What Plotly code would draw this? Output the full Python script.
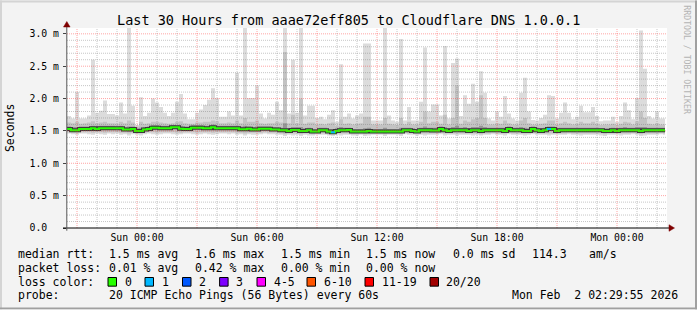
import plotly.graph_objects as go
import pandas as pd

# ---------------- data (ms) ----------------
bin_start = "2026-01-31 20:30"
n_bins = 150
bin_minutes = 12
range_start = "2026-01-31 20:30"
range_end = "2026-02-02 02:30"

rtt_max = [1.73,1.69,2.10,1.69,1.69,1.74,2.60,1.78,1.81,1.97,1.76,1.76,1.74,1.94,1.77,3.15,1.89,1.59,2.02,1.73,
           1.78,2.00,1.94,1.87,1.78,1.73,1.78,1.95,2.07,1.77,1.68,1.68,1.78,1.83,1.90,1.98,2.16,
           2.01,1.72,1.72,1.80,1.74,2.40,1.74,3.15,2.01,2.01,2.20,1.77,1.69,1.78,1.75,1.95,1.82,3.15,1.77,
           2.60,1.78,3.15,1.74,1.89,1.89,1.70,1.72,1.68,1.75,1.82,1.64,2.53,1.72,1.77,1.69,1.74,1.77,2.85,
           2.85,1.66,1.66,1.66,3.15,1.74,1.66,1.64,2.92,1.66,1.87,1.66,1.66,1.95,2.79,1.80,1.91,1.91,1.74,
           2.81,1.69,2.55,2.62,1.73,2.05,1.92,2.23,1.95,2.42,2.09,1.69,1.66,1.80,1.72,2.04,1.77,1.69,
           1.66,2.09,2.32,1.80,1.67,1.66,1.70,1.75,2.05,2.04,1.69,1.78,1.94,1.78,1.68,1.72,1.89,1.79,1.79,
           1.87,1.73,1.65,1.66,1.66,1.72,1.64,1.73,1.94,1.82,1.68,2.01,3.05,2.46,1.73,1.69,1.80,1.69,1.69]

rtt_p90 = [1.63,1.62,1.64,1.61,1.62,1.63,1.65,1.62,1.63,1.64,1.62,1.62,1.61,1.64,1.62,1.66,1.63,1.57,1.64,1.61,
           1.62,1.64,1.64,1.63,1.62,1.61,1.62,1.64,1.65,1.62,1.61,1.61,1.63,1.63,1.64,1.64,1.66,
           1.65,1.62,1.62,1.63,1.62,1.66,1.62,1.70,1.64,1.64,1.66,1.62,1.61,1.62,1.62,1.64,1.63,2.72,1.62,
           1.75,1.62,2.00,1.61,1.63,1.63,1.60,1.61,1.60,1.62,1.63,1.58,1.68,1.61,1.62,1.60,1.61,1.62,1.72,
           1.72,1.60,1.60,1.60,1.70,1.61,1.60,1.59,1.70,1.60,1.64,1.60,1.60,1.64,1.80,1.62,1.64,1.64,1.61,
           1.75,1.60,1.70,2.20,1.61,1.66,1.64,1.68,1.70,2.05,1.70,1.60,1.60,1.62,1.61,1.66,1.62,1.60,
           1.60,1.66,1.70,1.62,1.60,1.60,1.61,1.62,1.66,1.66,1.60,1.62,1.64,1.62,1.60,1.61,1.64,1.62,1.62,
           1.64,1.61,1.59,1.60,1.60,1.61,1.59,1.61,1.64,1.63,1.60,1.65,1.80,1.70,1.61,1.60,1.62,1.60,1.60]

rtt_p75 = [1.57,1.56,1.56,1.57,1.57,1.57,1.58,1.57,1.58,1.58,
           1.58,1.58,1.57,1.58,1.56,1.57,1.57,1.54,1.55,1.56,
           1.57,1.59,1.59,1.58,1.58,1.58,1.59,1.59,1.58,1.57,
           1.57,1.59,1.59,1.59,1.58,1.58,1.60,1.58,1.58,1.58,
           1.58,1.58,1.58,1.57,1.58,1.57,1.56,1.57,1.57,1.57,
           1.57,1.56,1.56,1.55,1.62,1.54,1.56,1.56,1.56,1.54,
           1.55,1.53,1.53,1.55,1.55,1.53,1.53,1.54,1.56,1.55,
           1.55,1.53,1.53,1.53,1.54,1.55,1.53,1.53,1.53,1.55,
           1.53,1.53,1.53,1.55,1.55,1.55,1.54,1.53,1.55,1.57,
           1.55,1.55,1.55,1.57,1.56,1.54,1.56,1.58,1.55,1.56,
           1.54,1.56,1.56,1.58,1.56,1.55,1.55,1.55,1.55,1.55,
           1.57,1.55,1.55,1.56,1.55,1.54,1.57,1.55,1.54,1.55,
           1.57,1.57,1.54,1.55,1.55,1.55,1.55,1.55,1.55,1.55,
           1.55,1.55,1.55,1.54,1.54,1.54,1.55,1.54,1.55,1.56,
           1.55,1.55,1.56,1.56,1.56,1.55,1.55,1.55,1.55,1.55]

rtt_median = [1.53,1.51,1.51,1.53,1.53,1.53,1.54,1.53,1.54,1.54,
              1.54,1.54,1.54,1.54,1.52,1.52,1.53,1.50,1.50,1.52,
              1.53,1.55,1.55,1.54,1.54,1.54,1.555,1.555,1.535,1.53,
              1.53,1.55,1.55,1.55,1.54,1.54,1.555,1.54,1.54,1.54,
              1.54,1.54,1.54,1.525,1.525,1.533,1.52,1.52,1.533,1.533,
              1.533,1.523,1.523,1.51,1.51,1.50,1.515,1.515,1.50,1.50,
              1.51,1.49,1.49,1.51,1.51,1.49,1.48,1.50,1.51,1.51,
              1.515,1.49,1.49,1.49,1.49,1.50,1.49,1.49,1.49,1.49,
              1.49,1.49,1.49,1.49,1.51,1.51,1.50,1.49,1.51,1.51,
              1.51,1.508,1.508,1.53,1.51,1.50,1.51,1.51,1.51,1.51,
              1.50,1.51,1.51,1.50,1.51,1.51,1.51,1.51,1.51,1.50,
              1.53,1.51,1.51,1.51,1.50,1.50,1.53,1.51,1.50,1.51,
              1.53,1.53,1.50,1.51,1.51,1.51,1.51,1.51,1.51,1.51,
              1.51,1.51,1.51,1.51,1.50,1.50,1.51,1.50,1.51,1.51,
              1.51,1.51,1.51,1.50,1.51,1.51,1.51,1.51,1.51,1.51]

rtt_p25 = [1.51,1.49,1.49,1.51,1.51,1.51,1.51,1.51,1.52,1.52,
           1.52,1.52,1.52,1.51,1.50,1.49,1.51,1.48,1.48,1.50,
           1.51,1.52,1.52,1.52,1.52,1.52,1.53,1.53,1.51,1.51,
           1.51,1.53,1.53,1.53,1.52,1.52,1.53,1.52,1.52,1.52,
           1.52,1.52,1.51,1.50,1.50,1.51,1.50,1.50,1.51,1.51,
           1.51,1.50,1.50,1.49,1.48,1.48,1.49,1.49,1.48,1.48,
           1.49,1.47,1.47,1.49,1.49,1.47,1.46,1.48,1.49,1.49,
           1.49,1.47,1.47,1.47,1.47,1.48,1.47,1.47,1.47,1.47,
           1.47,1.47,1.47,1.47,1.49,1.49,1.48,1.47,1.49,1.49,
           1.49,1.49,1.49,1.51,1.49,1.48,1.49,1.49,1.49,1.49,
           1.48,1.49,1.49,1.48,1.49,1.49,1.49,1.49,1.49,1.48,
           1.51,1.49,1.49,1.49,1.48,1.48,1.51,1.49,1.48,1.49,
           1.51,1.51,1.48,1.49,1.49,1.49,1.49,1.49,1.49,1.49,
           1.49,1.49,1.49,1.49,1.48,1.48,1.49,1.48,1.49,1.49,
           1.49,1.49,1.49,1.48,1.49,1.49,1.49,1.49,1.49,1.49]

rtt_p10 = [1.48,1.47,1.47,1.48,1.48,1.48,1.47,1.48,1.48,1.47,1.48,1.48,1.48,1.47,1.47,1.46,1.47,1.46,1.46,1.47,
           1.48,1.48,1.47,1.48,1.48,1.48,1.48,1.47,1.47,1.48,1.48,1.48,1.47,1.48,1.48,1.48,1.47,
           1.48,1.48,1.48,1.48,1.48,1.47,1.47,1.46,1.47,1.47,1.47,1.47,1.48,1.47,1.47,1.47,1.46,1.45,1.46,
           1.46,1.46,1.45,1.46,1.46,1.45,1.46,1.46,1.46,1.45,1.45,1.46,1.46,1.46,1.46,1.45,1.45,1.46,1.45,
           1.46,1.46,1.46,1.46,1.45,1.46,1.46,1.46,1.45,1.47,1.46,1.46,1.46,1.46,1.46,1.46,1.46,1.46,1.47,
           1.46,1.46,1.46,1.46,1.46,1.46,1.46,1.46,1.46,1.45,1.46,1.46,1.47,1.46,1.46,1.46,1.47,1.46,
           1.46,1.46,1.46,1.46,1.47,1.46,1.46,1.46,1.46,1.46,1.46,1.46,1.46,1.47,1.46,1.46,1.46,1.46,1.46,
           1.46,1.46,1.46,1.45,1.46,1.46,1.46,1.46,1.46,1.46,1.47,1.46,1.45,1.46,1.46,1.46,1.46,1.47,1.46]

rtt_min = [1.46,1.45,1.44,1.46,1.46,1.45,1.44,1.46,1.45,1.44,1.46,1.45,1.46,1.44,1.45,1.43,1.45,1.44,1.43,1.45,
           1.46,1.45,1.44,1.45,1.46,1.46,1.45,1.44,1.45,1.46,1.46,1.45,1.44,1.45,1.46,1.45,1.44,
           1.45,1.46,1.46,1.45,1.46,1.44,1.45,1.43,1.45,1.44,1.44,1.45,1.46,1.45,1.45,1.44,1.44,1.42,1.44,
           1.43,1.44,1.42,1.44,1.43,1.43,1.44,1.44,1.44,1.43,1.42,1.44,1.43,1.44,1.44,1.43,1.43,1.44,1.42,
           1.43,1.44,1.44,1.44,1.42,1.44,1.44,1.44,1.42,1.45,1.44,1.44,1.43,1.44,1.43,1.44,1.44,1.44,1.45,
           1.43,1.44,1.44,1.43,1.44,1.44,1.44,1.43,1.44,1.43,1.44,1.44,1.45,1.44,1.44,1.43,1.45,1.44,
           1.44,1.44,1.43,1.44,1.45,1.44,1.44,1.44,1.43,1.44,1.44,1.44,1.44,1.45,1.44,1.44,1.43,1.44,1.44,
           1.44,1.44,1.43,1.42,1.44,1.44,1.44,1.43,1.44,1.44,1.45,1.44,1.42,1.43,1.44,1.44,1.44,1.45,1.44]

loss_bins = [66, 120]          # bins with packet loss
loss_counts = [1, 1]           # lost pings in those bins

y_tick_vals = [0.0, 0.5, 1.0, 1.5, 2.0, 2.5, 3.0]
y_tick_text = ["0.0\u00a0\u00a0", "0.5 m", "1.0 m", "1.5 m", "2.0 m", "2.5 m", "3.0 m"]
y_top = 3.09

title_text = "Last 30 Hours from aaae72eff805 to Cloudflare DNS 1.0.0.1"
legend_row1 = [("median rtt:", 16.4), ("1.5 ms avg", 107.1), ("1.6 ms max", 192.9), ("1.5 ms min", 279.1),
               ("1.5 ms now", 364.4), ("0.0 ms sd", 451.1), ("114.3", 529.8), ("am/s", 586.7)]
legend_row2 = [("packet loss:", 16.4), ("0.01 % avg", 107.1), ("0.42 % max", 192.9), ("0.00 % min", 279.1),
               ("0.00 % now", 364.4)]
loss_labels = ["0", "1", "2", "3", "4-5", "6-10", "11-19", "20/20"]
loss_colors = ["#26ff00", "#00b8ff", "#0059ff", "#7e00ff", "#ff00ff", "#ff5500", "#ff0000", "#a10000"]
loss_color_for_count = {1: "#00b8ff", 2: "#0059ff", 3: "#7e00ff"}
probe_text = "20 ICMP Echo Pings (56 Bytes) every 60s"
stamp_text = "Mon Feb\u00a0\u00a02 02:29:55 2026"

for arr in (rtt_max, rtt_p90, rtt_p75, rtt_median, rtt_p25, rtt_p10, rtt_min):
    assert len(arr) == n_bins, len(arr)

# ---------------- geometry ----------------
W, H = 697, 310
ML, MR, MT, MB = 67, 30, 27.5, 81.7
PW, PH = W - ML - MR, H - MT - MB
def px(x):
    return (x - ML) / PW
def py(y):
    return (H - MB - y) / PH

MONO = "DejaVu Sans Mono"

times = list(pd.date_range(bin_start, periods=n_bins, freq=f"{bin_minutes}min"))
x_end = times[-1] + pd.Timedelta(minutes=bin_minutes / 2)
xs = times + [x_end]

def ext(v):
    return list(v) + [v[-1]]

fig = go.Figure()

def band(lo, hi, color):
    fig.add_trace(go.Scatter(x=xs, y=ext(lo), mode="lines", line=dict(width=0, shape="hv"),
                             hoverinfo="skip", showlegend=False))
    fig.add_trace(go.Scatter(x=xs, y=ext(hi), mode="lines", line=dict(width=0, shape="hv"),
                             fill="tonexty", fillcolor=color, hoverinfo="skip", showlegend=False))

band(rtt_min, rtt_max, "#dcdcdc")
band(rtt_p10, rtt_p90, "#c3c3c3")
band(rtt_p25, rtt_p75, "#969696")

fig.add_trace(go.Scatter(x=xs, y=ext(rtt_median), mode="lines",
                         line=dict(width=4, color="#3a3a3a", shape="hv"), hoverinfo="skip", showlegend=False))
fig.add_trace(go.Scatter(x=xs, y=ext(rtt_median), mode="lines",
                         line=dict(width=2, color=loss_colors[0], shape="hv"), hoverinfo="skip", showlegend=False))

for b, c in zip(loss_bins, loss_counts):
    t0 = times[b]
    t1 = t0 + pd.Timedelta(minutes=bin_minutes)
    fig.add_trace(go.Scatter(x=[t0, t1], y=[rtt_median[b], rtt_median[b]], mode="lines",
                             line=dict(width=2, color=loss_color_for_count[c]),
                             hoverinfo="skip", showlegend=False))

# ---------------- grid (drawn above the smoke, like rrdtool) ----------------
shapes = []
GRID = "rgba(120,120,120,0.42)"
MGRID = "rgba(255,40,40,0.42)"
DASH = "1px,1px"
hours = pd.date_range("2026-01-31 21:00", "2026-02-02 02:00", freq="1h")
for t in hours:
    major = (t.hour % 3 == 0)
    shapes.append(dict(type="line", xref="x", yref="paper", x0=t, x1=t, y0=0, y1=1, layer="above",
                       line=dict(color=MGRID if major else GRID, width=1, dash=DASH)))
for i in range(1, 31):
    v = i / 10
    major = (i % 5 == 0)
    shapes.append(dict(type="line", xref="paper", yref="y", x0=0, x1=1, y0=v, y1=v, layer="above",
                       line=dict(color=MGRID if major else GRID, width=1, dash=DASH)))

# axes lines and arrows
ARROW = "#7f0000"
shapes.append(dict(type="line", xref="paper", yref="paper", x0=px(63), x1=px(670), y0=py(228.3), y1=py(228.3),
                   line=dict(color="#000000", width=1), layer="above"))
shapes.append(dict(type="line", xref="paper", yref="paper", x0=px(66.8), x1=px(66.8), y0=py(231), y1=py(24),
                   line=dict(color="#555555", width=1), layer="above"))
shapes.append(dict(type="path", xref="paper", yref="paper",
                   path=f"M {px(669)} {py(225)} L {px(674.5)} {py(228.3)} L {px(669)} {py(231.6)} Z",
                   fillcolor=ARROW, line=dict(color=ARROW, width=0.5), layer="above"))
shapes.append(dict(type="path", xref="paper", yref="paper",
                   path=f"M {px(63.5)} {py(26.5)} L {px(66.8)} {py(21)} L {px(70.1)} {py(26.5)} Z",
                   fillcolor=ARROW, line=dict(color=ARROW, width=0.5), layer="above"))

# border shading
shapes.append(dict(type="rect", xref="paper", yref="paper", x0=px(0), x1=px(2), y0=py(310), y1=py(0),
                   fillcolor="#d4d4d4", line=dict(width=0), layer="below"))
shapes.append(dict(type="rect", xref="paper", yref="paper", x0=px(0), x1=px(697), y0=py(2), y1=py(0),
                   fillcolor="#d4d4d4", line=dict(width=0), layer="below"))
shapes.append(dict(type="rect", xref="paper", yref="paper", x0=px(695), x1=px(697), y0=py(310), y1=py(0),
                   fillcolor="#a0a0a0", line=dict(width=0), layer="below"))
shapes.append(dict(type="rect", xref="paper", yref="paper", x0=px(0), x1=px(697), y0=py(310), y1=py(308),
                   fillcolor="#a0a0a0", line=dict(width=0), layer="below"))

# ---------------- legend text ----------------
annotations = []
def txt(s, x, y, size=11.5, anchor="left", color="#000000", angle=0):
    annotations.append(dict(text=s, x=px(x), y=py(y), xref="paper", yref="paper", showarrow=False,
                            xanchor=anchor, yanchor="middle", textangle=angle,
                            font=dict(family=MONO, size=size, color=color)))

txt(title_text, 348.5, 19, size=13.5, anchor="center")
txt("Seconds", 10, 128, size=11.5, anchor="center", angle=-90)
txt("RRDTOOL / TOBI OETIKER", 687, 59, size=8.2, anchor="center", color="#b4b4b4", angle=90)

for s, x in legend_row1:
    txt(s, x, 254.5)
for s, x in legend_row2:
    txt(s, x, 268.3)
txt("loss color:", 16.4, 282.3)
box_x = [108, 145, 182.5, 219.6, 257, 307, 365, 430]
lab_x = [123, 160, 197.3, 234.2, 271.6, 322.2, 380, 444.4]
for lbl, col, bx, lx in zip(loss_labels, loss_colors, box_x, lab_x):
    shapes.append(dict(type="rect", xref="paper", yref="paper", x0=px(bx), x1=px(bx + 8.5),
                       y0=py(286.7), y1=py(278), fillcolor=col, line=dict(color="#000000", width=1)))
    txt(lbl, lx, 282.3)
txt("probe:", 16.4, 296)
txt(probe_text, 107.1, 296)
txt(stamp_text, 680, 296, anchor="right")

major_ticks = list(pd.date_range("2026-01-31 21:00", "2026-02-02 00:00", freq="3h"))
major_text = [t.strftime("%a %H:%M") if t.hour % 6 == 0 else "" for t in major_ticks]

fig.update_layout(
    width=W, height=H,
    margin=dict(l=ML, r=MR, t=MT, b=MB, pad=0),
    paper_bgcolor="#f3f3f3", plot_bgcolor="#ffffff",
    showlegend=False,
    shapes=shapes, annotations=annotations,
    xaxis=dict(type="date", range=[range_start, range_end], showgrid=False, zeroline=False, showline=False,
               tickmode="array", tickvals=major_ticks, ticktext=major_text, ticks="",
               tickfont=dict(family=MONO, size=9.8, color="#000000"), ticklabelstandoff=2),
    yaxis=dict(range=[0, y_top], showgrid=False, zeroline=False, showline=False,
               tickmode="array", tickvals=y_tick_vals, ticktext=y_tick_text,
               ticks="outside", ticklen=3, tickcolor="#444444",
               tickfont=dict(family=MONO, size=9.8, color="#000000"), ticklabelstandoff=2),
)

fig.write_html("out.html")
